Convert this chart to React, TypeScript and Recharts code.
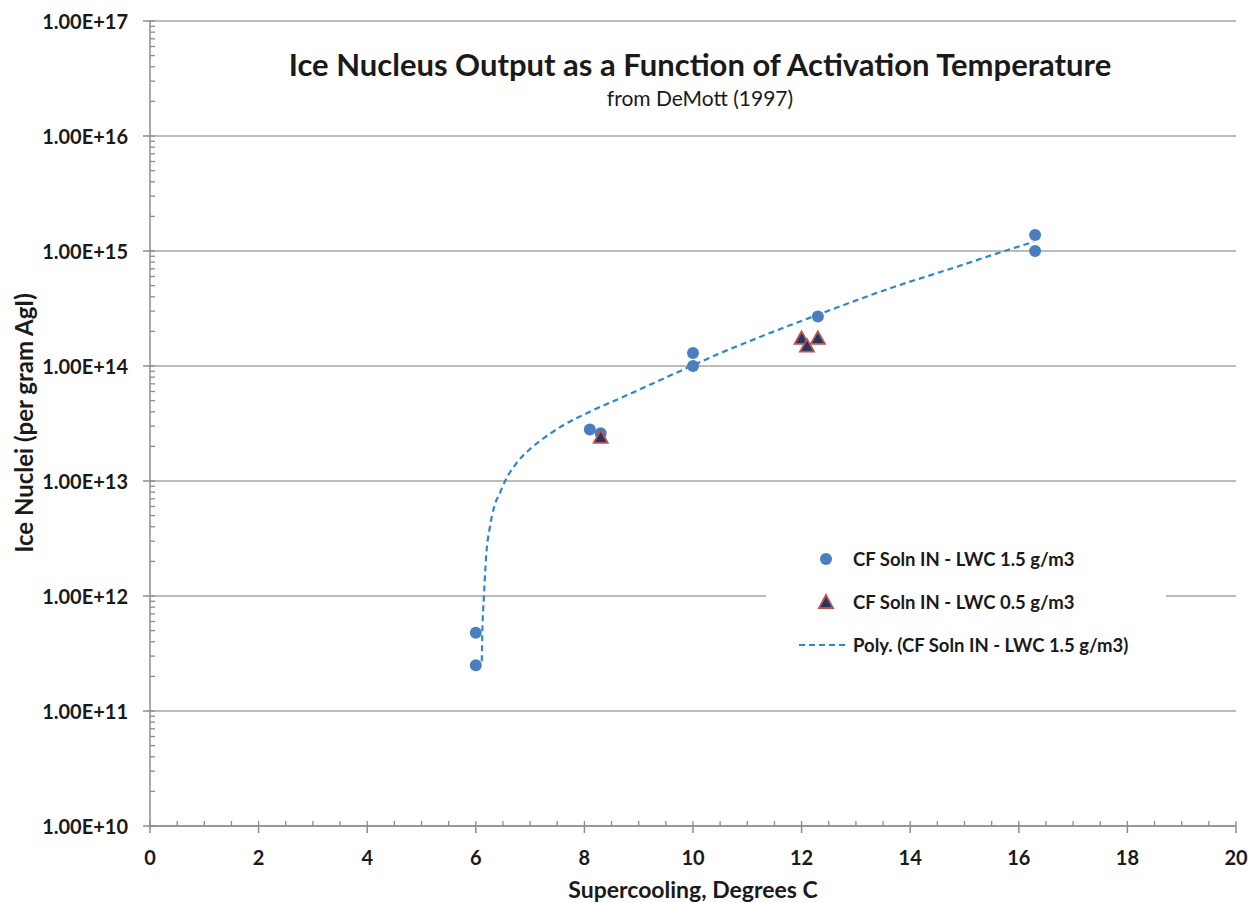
import React from "react";
import {
  ComposedChart,
  Scatter,
  Line,
  XAxis,
  YAxis,
  CartesianGrid,
  Legend,
} from "recharts";

// ---- data ----
const lwc15Points = [
  { x: 6.0, y: 4.8e11 },
  { x: 6.0, y: 2.5e11 },
  { x: 8.1, y: 2.8e13 },
  { x: 8.3, y: 2.6e13 },
  { x: 10.0, y: 1.3e14 },
  { x: 10.0, y: 1.0e14 },
  { x: 12.3, y: 2.7e14 },
  { x: 16.3, y: 1.38e15 },
  { x: 16.3, y: 1.0e15 },
];

const lwc05Points = [
  { x: 8.3, y: 2.4e13 },
  { x: 12.0, y: 1.74e14 },
  { x: 12.1, y: 1.49e14 },
  { x: 12.3, y: 1.74e14 },
];

// polynomial trendline
const trendPoints = [
  { x: 6.11, y: 2.7e11 },
  { x: 6.12, y: 4.7e11 },
  { x: 6.15, y: 1.0e12 },
  { x: 6.19, y: 2.2e12 },
  { x: 6.26, y: 4.0e12 },
  { x: 6.34, y: 6.0e12 },
  { x: 6.45, y: 8.0e12 },
  { x: 6.54, y: 1.0e13 },
  { x: 6.75, y: 1.43e13 },
  { x: 7.0, y: 1.9e13 },
  { x: 7.3, y: 2.45e13 },
  { x: 7.61, y: 3.05e13 },
  { x: 8.1, y: 4.0e13 },
  { x: 8.72, y: 5.4e13 },
  { x: 9.33, y: 7.3e13 },
  { x: 9.97, y: 1.0e14 },
  { x: 10.43, y: 1.25e14 },
  { x: 11.17, y: 1.74e14 },
  { x: 12.28, y: 2.77e14 },
  { x: 13.63, y: 4.74e14 },
  { x: 14.86, y: 7.3e14 },
  { x: 15.71, y: 9.9e14 },
  { x: 16.27, y: 1.2e15 },
];

const xMajorTicks = [0, 2, 4, 6, 8, 10, 12, 14, 16, 18, 20];
const xAllTicks = Array.from({ length: 41 }, (_, i) => i * 0.5);
const yMajorTicks = [1e10, 1e11, 1e12, 1e13, 1e14, 1e15, 1e16, 1e17];
const yAllTicks: number[] = [];
for (let e = 10; e < 17; e++) {
  for (let m = 1; m <= 9; m++) yAllTicks.push(m * Math.pow(10, e));
}
yAllTicks.push(1e17);

const titleText = "Ice Nucleus Output as a Function of Activation Temperature";
const subtitleText = "from DeMott (1997)";
const xTitle = "Supercooling, Degrees C";
const yTitle = "Ice Nuclei (per gram AgI)";
const seriesNames = [
  "CF Soln IN - LWC 1.5 g/m3",
  "CF Soln IN - LWC 0.5 g/m3",
  "Poly. (CF Soln IN - LWC 1.5 g/m3)",
];

// ---- styles ----
const FONT = "Lato, 'Open Sans', sans-serif";
const TEXT = "#1a1a1a";
const BLUE = "#4a7ebf";
const NAVY = "#1f3864";
const RED = "#c0504d";
const TREND = "#2f86d0";
const GRID = "#a6a6a6";
const AXIS = "#8c8c8c";

const isMajorY = (v: number) => {
  const l = Math.log10(v);
  return Math.abs(l - Math.round(l)) < 1e-9;
};
const isMajorX = (v: number) => xMajorTicks.some((t) => Math.abs(t - v) < 1e-9);

const fmtY = (v: number) => {
  const e = Math.round(Math.log10(v));
  const m = v / Math.pow(10, e);
  return `${m.toFixed(2)}E+${e}`;
};

const XTick = (props: any) => {
  const { x, y, payload } = props;
  const v = payload.value;
  const major = isMajorX(v);
  return (
    <g>
      <line x1={x} x2={x} y1={y - 5} y2={y} stroke={AXIS} strokeWidth={1.3} />
      {major && <line x1={x} x2={x} y1={y} y2={y + 7} stroke={AXIS} strokeWidth={1.5} />}
      {major && (
        <text
          x={x}
          y={y + 31}
          textAnchor="middle"
          dominantBaseline="central"
          fontFamily={FONT}
          fontWeight={700}
          fontSize={20}
          fill={TEXT}
        >
          {v}
        </text>
      )}
    </g>
  );
};

const YTick = (props: any) => {
  const { x, y, payload } = props;
  const v = payload.value;
  const major = isMajorY(v);
  return (
    <g>
      <line x1={x} x2={x + 5} y1={y} y2={y} stroke={AXIS} strokeWidth={1.3} />
      {major && <line x1={x - 7} x2={x} y1={y} y2={y} stroke={AXIS} strokeWidth={1.5} />}
      {major && (
        <text
          x={x - 22}
          y={y}
          textAnchor="end"
          dominantBaseline="central"
          fontFamily={FONT}
          fontWeight={700}
          fontSize={20}
          fill={TEXT}
        >
          {fmtY(v)}
        </text>
      )}
    </g>
  );
};

const Circle = (props: any) => {
  const { cx, cy } = props;
  if (cx == null || cy == null) return null;
  return <circle cx={cx} cy={cy} r={6} fill={BLUE} />;
};

const Triangle = (props: any) => {
  const { cx, cy } = props;
  if (cx == null || cy == null) return null;
  const s = 7;
  return (
    <path
      d={`M${cx},${cy - s} L${cx + s},${cy + s * 0.8} L${cx - s},${cy + s * 0.8} Z`}
      fill={NAVY}
      stroke={RED}
      strokeWidth={1.8}
    />
  );
};

const renderLegend = () => {
  const row: React.CSSProperties = {
    display: "flex",
    alignItems: "center",
    height: 43,
    fontFamily: FONT,
    fontWeight: 700,
    fontSize: 18.5,
    color: TEXT,
    whiteSpace: "nowrap",
  };
  const icon: React.CSSProperties = { width: 87, display: "flex", justifyContent: "flex-end" };
  return (
    <div style={{ background: "#fff", width: 400, height: 136, paddingTop: 7, boxSizing: "border-box" }}>
      <div style={row}>
        <div style={icon}>
          <svg width={60} height={16}>
            <circle cx={33} cy={8} r={6} fill={BLUE} />
          </svg>
        </div>
        <span>{seriesNames[0]}</span>
      </div>
      <div style={row}>
        <div style={icon}>
          <svg width={60} height={18}>
            <path d="M33,2 L40,15 L26,15 Z" fill={NAVY} stroke={RED} strokeWidth={1.8} />
          </svg>
        </div>
        <span>{seriesNames[1]}</span>
      </div>
      <div style={row}>
        <div style={icon}>
          <svg width={56} height={6}>
            <line x1={2} y1={3} x2={48} y2={3} stroke={TREND} strokeWidth={2} strokeDasharray="6 4" />
          </svg>
        </div>
        <span>{seriesNames[2]}</span>
      </div>
    </div>
  );
};

const XTitle = (props: any) => {
  const vb = props.viewBox || {};
  return (
    <text
      x={vb.x + vb.width / 2}
      y={889}
      textAnchor="middle"
      dominantBaseline="central"
      fontFamily={FONT}
      fontWeight={700}
      fontSize={23}
      fill={TEXT}
    >
      {xTitle}
    </text>
  );
};

const YTitle = () => (
  <text
    x={23}
    y={423}
    textAnchor="middle"
    dominantBaseline="central"
    transform="rotate(-90, 23, 423)"
    fontFamily={FONT}
    fontWeight={700}
    fontSize={24}
    fill={TEXT}
  >
    {yTitle}
  </text>
);

export default function App() {
  return (
    <div style={{ position: "absolute", left: 0, top: 0, width: 1253, height: 903, background: "#fff" }}>
      <ComposedChart
        width={1253}
        height={903}
        margin={{ top: 21, right: 17, left: 0, bottom: 0 }}
      >
        <CartesianGrid
          vertical={false}
          horizontalValues={yMajorTicks}
          stroke={GRID}
          strokeWidth={1.5}
        />
        <XAxis
          dataKey="x"
          type="number"
          domain={[0, 20]}
          ticks={xAllTicks}
          interval={0}
          allowDataOverflow
          height={77}
          axisLine={{ stroke: AXIS, strokeWidth: 1.5 }}
          tickLine={false}
          tickSize={0}
          tickMargin={0}
          tick={<XTick />}
          label={<XTitle />}
        />
        <YAxis
          dataKey="y"
          type="number"
          scale="log"
          domain={[1e10, 1e17]}
          ticks={yAllTicks}
          interval={0}
          allowDataOverflow
          width={150}
          axisLine={{ stroke: AXIS, strokeWidth: 1.5 }}
          tickLine={false}
          tickSize={0}
          tickMargin={0}
          tick={<YTick />}
          label={<YTitle />}
        />
        <Legend
          layout="vertical"
          align="center"
          verticalAlign="middle"
          content={renderLegend}
          wrapperStyle={{ left: 766, top: 530, width: 400, height: 136 }}
        />
        <Line
          data={trendPoints}
          dataKey="y"
          type="monotone"
          stroke={TREND}
          strokeWidth={2.2}
          strokeDasharray="6 4"
          dot={false}
          activeDot={false}
          isAnimationActive={false}
          legendType="none"
        />
        <Scatter data={lwc15Points} dataKey="y" shape={<Circle />} isAnimationActive={false} />
        <Scatter data={lwc05Points} dataKey="y" shape={<Triangle />} isAnimationActive={false} />
      </ComposedChart>
      <div
        style={{
          position: "absolute",
          left: 150,
          width: 1100,
          top: 45,
          lineHeight: "38px",
          textAlign: "center",
          fontFamily: FONT,
          fontWeight: 700,
          fontSize: 31,
          color: TEXT,
          whiteSpace: "nowrap",
        }}
      >
        {titleText}
      </div>
      <div
        style={{
          position: "absolute",
          left: 150,
          width: 1100,
          top: 85,
          lineHeight: "26px",
          textAlign: "center",
          fontFamily: FONT,
          fontSize: 21,
          color: TEXT,
          whiteSpace: "nowrap",
        }}
      >
        {subtitleText}
      </div>
    </div>
  );
}
